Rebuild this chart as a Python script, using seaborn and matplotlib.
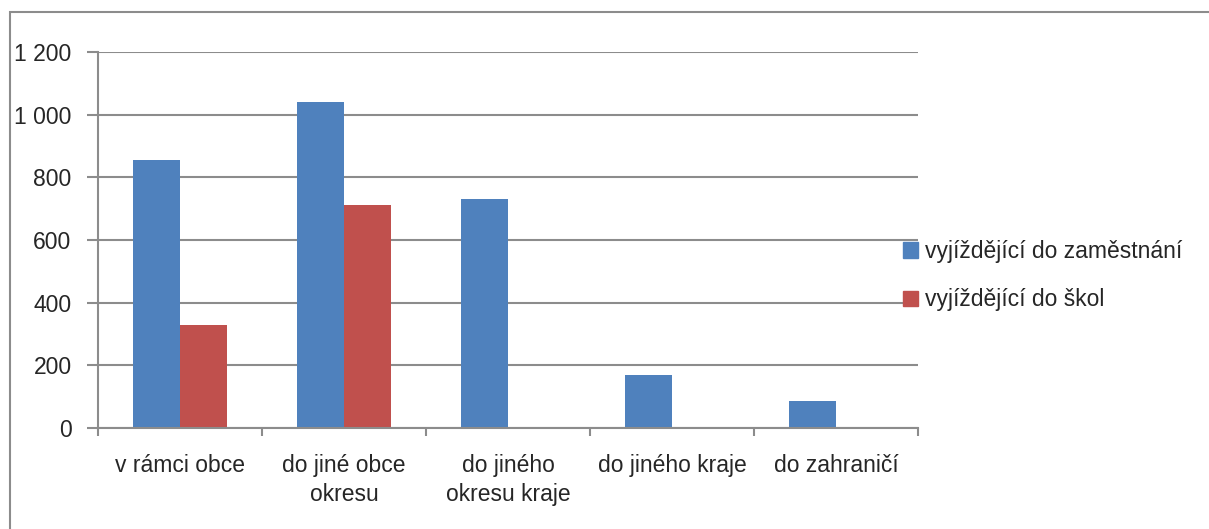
import numpy as np
import matplotlib
matplotlib.use("Agg")
import matplotlib.pyplot as plt
import matplotlib.ticker as mticker
from matplotlib.patches import Rectangle
import seaborn as sns
import pandas as pd

kategorie = ["v rámci obce", "do jiné obce\nokresu", "do jiného\nokresu kraje",
             "do jiného kraje", "do zahraničí"]
zamestnani = [855, 1040, 730, 170, 85]
skoly = [330, 712, 0, 0, 0]
serie = ["vyjíždějící do zaměstnání", "vyjíždějící do škol"]
barvy = ["#4F81BD", "#C0504D"]

df = pd.DataFrame({
    "kategorie": kategorie * 2,
    "hodnota": zamestnani + skoly,
    "serie": [serie[0]] * len(kategorie) + [serie[1]] * len(kategorie),
})

sns.set_style("white")
plt.rcParams["font.family"] = ["Liberation Sans", "DejaVu Sans"]
fs = 16.5

fig = plt.figure(figsize=(12.09, 5.29), dpi=100)
ax = fig.add_axes([98 / 1209, 1 - 428 / 529, (918 - 98) / 1209, (428 - 52) / 529])

sns.barplot(data=df, x="kategorie", y="hodnota", hue="serie", palette=barvy,
            width=0.57, ax=ax, edgecolor="none", saturation=1, legend=False)

ax.set_ylim(0, 1200)
ax.set_xlim(-0.5, len(kategorie) - 0.5)
ax.set_yticks(np.arange(0, 1201, 200))
ax.yaxis.set_major_formatter(mticker.FuncFormatter(lambda v, p: f"{int(v):,}".replace(",", " ")))
ax.yaxis.grid(True, color="#8c8c8c", linewidth=1.5)
ax.set_axisbelow(True)
ax.set_xlabel("")
ax.set_ylabel("")

for s in ["top", "right"]:
    ax.spines[s].set_visible(False)
for s in ["left", "bottom"]:
    ax.spines[s].set_color("#8c8c8c")
    ax.spines[s].set_linewidth(1.5)

ax.tick_params(axis="y", length=8, width=1.5, color="#8c8c8c", labelsize=fs, pad=11, left=True)
ax.tick_params(axis="x", which="major", length=0, labelsize=fs, pad=19)
for t in ax.get_xticklabels():
    t.set_linespacing(1.3)
ax.set_xticks(np.arange(-0.5, len(kategorie)), minor=True)
ax.tick_params(axis="x", which="minor", length=6, width=1.5, color="#8c8c8c", bottom=True)

handles = [Rectangle((0, 0), 1, 1, color=c) for c in barvy]
ax.legend(handles, serie, loc="center left", bbox_to_anchor=(0.982, 0.405),
          frameon=False, fontsize=fs, handlelength=0.65, handleheight=0.65,
          handletextpad=0.3, labelspacing=1.1, borderaxespad=0, borderpad=0)

# outer chart frame: only left and top edges are visible in the picture
fig.patches.append(Rectangle((9.5 / 1209, -0.1), 1.2, 1.1 - 12.5 / 529,
                             transform=fig.transFigure, fill=False,
                             edgecolor="#8c8c8c", linewidth=1.5))

fig.savefig("out.png", dpi=100)
